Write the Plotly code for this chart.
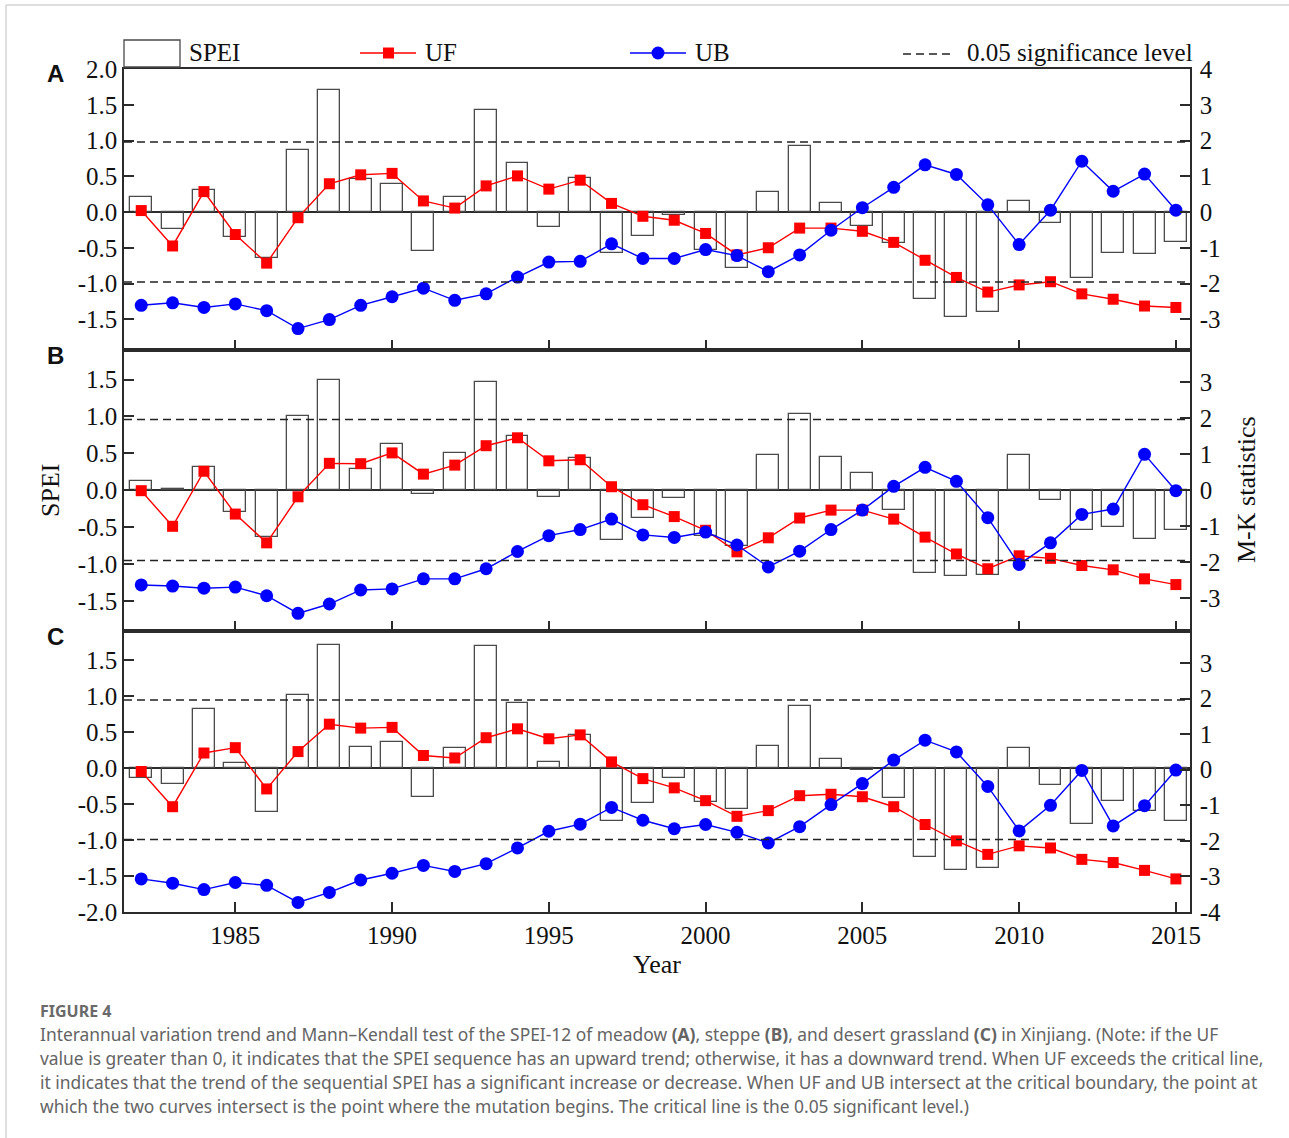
import plotly.graph_objects as go

W, H = 1289, 1138

years = list(range(1982, 2016))
year_ticks = [1985, 1990, 1995, 2000, 2005, 2010, 2015]
sig_level = 1.96

# (A) meadow
spei_a = [0.21, -0.24, 0.31, -0.35, -0.65, 0.87, 1.71, 0.46, 0.39, -0.55, 0.21, 1.43, 0.69, -0.21, 0.48, -0.58,
          -0.34, -0.04, -0.53, -0.78, 0.28, 0.93, 0.12, -0.19, -0.43, -1.21, -1.47, -1.40, 0.15, -0.16, -0.92,
          -0.58, -0.59, -0.42]
uf_a = [0.04, -0.95, 0.57, -0.63, -1.43, -0.16, 0.79, 1.04, 1.08, 0.31, 0.11, 0.73, 1.01, 0.64, 0.89, 0.24,
        -0.12, -0.23, -0.60, -1.20, -1.00, -0.45, -0.45, -0.54, -0.85, -1.35, -1.83, -2.24, -2.04, -1.95, -2.29,
        -2.44, -2.63, -2.67]
ub_a = [-2.61, -2.54, -2.67, -2.57, -2.76, -3.26, -3.01, -2.61, -2.37, -2.13, -2.47, -2.29, -1.82, -1.40, -1.38,
        -0.89, -1.30, -1.30, -1.05, -1.22, -1.67, -1.20, -0.51, 0.12, 0.69, 1.32, 1.05, 0.20, -0.91, 0.05, 1.42,
        0.58, 1.06, 0.05]

# (B) steppe
spei_b = [0.13, 0.01, 0.31, -0.29, -0.64, 1.00, 1.50, 0.28, 0.63, -0.05, 0.51, 1.47, 0.73, -0.09, 0.44, -0.67,
          -0.38, -0.10, -0.62, -0.76, 0.48, 1.03, 0.45, 0.23, -0.27, -1.13, -1.16, -1.15, 0.48, -0.14, -0.54,
          -0.50, -0.66, -0.54]
uf_b = [-0.02, -1.01, 0.52, -0.67, -1.47, -0.19, 0.74, 0.73, 1.03, 0.44, 0.69, 1.23, 1.45, 0.81, 0.84, 0.09,
        -0.41, -0.74, -1.12, -1.72, -1.33, -0.78, -0.56, -0.56, -0.81, -1.31, -1.78, -2.19, -1.83, -1.90, -2.10,
        -2.22, -2.47, -2.63]
ub_b = [-2.64, -2.67, -2.73, -2.70, -2.94, -3.43, -3.17, -2.78, -2.75, -2.47, -2.47, -2.19, -1.71, -1.27, -1.10,
        -0.81, -1.25, -1.32, -1.17, -1.53, -2.14, -1.70, -1.10, -0.56, 0.10, 0.63, 0.24, -0.77, -2.07, -1.47,
        -0.68, -0.53, 0.99, -0.02]

# (C) desert grassland
spei_c = [-0.14, -0.22, 0.83, 0.08, -0.61, 1.02, 1.72, 0.30, 0.37, -0.40, 0.28, 1.70, 0.91, 0.09, 0.46, -0.73,
          -0.49, -0.14, -0.47, -0.57, 0.31, 0.87, 0.13, -0.03, -0.41, -1.23, -1.42, -1.39, 0.28, -0.23, -0.78,
          -0.46, -0.60, -0.73]
uf_c = [-0.05, -1.04, 0.47, 0.62, -0.54, 0.51, 1.28, 1.17, 1.19, 0.40, 0.33, 0.90, 1.15, 0.87, 0.98, 0.22,
        -0.25, -0.51, -0.87, -1.31, -1.15, -0.73, -0.69, -0.76, -1.04, -1.54, -2.00, -2.38, -2.14, -2.20, -2.52,
        -2.61, -2.83, -3.07]
ub_c = [-3.07, -3.19, -3.37, -3.17, -3.25, -3.73, -3.45, -3.10, -2.91, -2.69, -2.86, -2.64, -2.20, -1.73, -1.53,
        -1.06, -1.42, -1.66, -1.54, -1.76, -2.06, -1.60, -0.98, -0.39, 0.27, 0.83, 0.50, -0.47, -1.72, -1.00,
        -0.02, -1.58, -1.01, -0.01]

# left (SPEI) and right (M-K) tick labels per panel
spei_ticks_a = [2.0, 1.5, 1.0, 0.5, 0.0, -0.5, -1.0, -1.5]
spei_ticks_b = [1.5, 1.0, 0.5, 0.0, -0.5, -1.0, -1.5]
spei_ticks_c = [1.5, 1.0, 0.5, 0.0, -0.5, -1.0, -1.5, -2.0]
mk_ticks_a = [4, 3, 2, 1, 0, -1, -2, -3]
mk_ticks_b = [3, 2, 1, 0, -1, -2, -3]
mk_ticks_c = [3, 2, 1, 0, -1, -2, -3, -4]

caption_lines = [
    "Interannual variation trend and Mann\u2013Kendall test of the SPEI-12 of meadow <b>(A)</b>, steppe <b>(B)</b>, "
    "and desert grassland <b>(C)</b> in Xinjiang. (Note: if the UF",
    "value is greater than 0, it indicates that the SPEI sequence has an upward trend; otherwise, it has a downward "
    "trend. When UF exceeds the critical line,",
    "it indicates that the trend of the sequential SPEI has a significant increase or decrease. When UF and UB "
    "intersect at the critical boundary, the point at",
    "which the two curves intersect is the point where the mutation begins. The critical line is the 0.05 "
    "significant level.)",
]

SERIF = "Liberation Serif"
SANS = "Noto Sans"
AX = "#2b2b2b"


def px(x):
    return x / W


def py(y):
    return 1 - y / H


def fmt1(v):
    # one-decimal labels with a plain hyphen for negatives
    return f"{v:.1f}"


panels = [
    dict(letter="A", spei=spei_a, uf=uf_a, ub=ub_a, top=69, bot=350,
         lrange=[-1.93, 2.0], rrange=[-3.86, 4.0], lt=spei_ticks_a, rt=mk_ticks_a),
    dict(letter="B", spei=spei_b, uf=uf_b, ub=ub_b, top=350, bot=631,
         lrange=[-1.91, 1.90], rrange=[-3.92, 3.89], lt=spei_ticks_b, rt=mk_ticks_b),
    dict(letter="C", spei=spei_c, uf=uf_c, ub=ub_c, top=631, bot=912,
         lrange=[-2.0, 1.91], rrange=[-4.0, 3.9], lt=spei_ticks_c, rt=mk_ticks_c),
]

x_left, x_right = 124, 1190
x_range = [1981.45, 2015.45]

fig = go.Figure()
layout = {}
shapes = []
annotations = []
tick_font = dict(family=SERIF, size=25, color="#111")

for i, p in enumerate(panels):
    xn = "x" if i == 0 else f"x{i + 1}"
    yl = "y" if i == 0 else f"y{2 * i + 1}"
    yr = f"y{2 * i + 2}"
    xkey = "xaxis" if i == 0 else f"xaxis{i + 1}"
    ylkey = "yaxis" if i == 0 else f"yaxis{2 * i + 1}"
    yrkey = f"yaxis{2 * i + 2}"

    fig.add_trace(go.Bar(x=years, y=p["spei"], width=0.7, xaxis=xn, yaxis=yl,
                         marker=dict(color="rgba(255,255,255,0)", line=dict(color="#4a4a4a", width=1.3)),
                         showlegend=False))
    fig.add_trace(go.Scatter(x=years, y=p["uf"], xaxis=xn, yaxis=yr, mode="lines+markers",
                             line=dict(color="#ff0000", width=1.4),
                             marker=dict(symbol="square", size=11, color="#ff0000"), showlegend=False))
    fig.add_trace(go.Scatter(x=years, y=p["ub"], xaxis=xn, yaxis=yr, mode="lines+markers",
                             line=dict(color="#0000ff", width=1.4),
                             marker=dict(symbol="circle", size=13, color="#0000ff"), showlegend=False))

    dom_y = [py(p["bot"]), py(p["top"])]
    layout[xkey] = dict(domain=[px(x_left), px(x_right)], range=x_range, anchor=yl, automargin=False,
                        tickvals=year_ticks, ticktext=[str(t) for t in year_ticks],
                        showticklabels=(i == 2), ticks="inside", ticklen=10, tickwidth=1.5, tickcolor=AX,
                        showline=True, mirror=True, linecolor=AX, linewidth=1.5, showgrid=False, zeroline=False,
                        tickfont=tick_font)
    layout[ylkey] = dict(domain=dom_y, range=p["lrange"], anchor=xn, automargin=False,
                         tickvals=p["lt"], ticktext=[fmt1(v) for v in p["lt"]],
                         ticks="inside", ticklen=10, tickwidth=1.5, tickcolor=AX,
                         showline=True, linecolor=AX, linewidth=1.5, showgrid=False,
                         zeroline=True, zerolinecolor=AX, zerolinewidth=1.5, tickfont=tick_font)
    layout[yrkey] = dict(range=p["rrange"], overlaying=yl, side="right", anchor=xn, automargin=False,
                         tickvals=p["rt"], ticktext=[str(v) for v in p["rt"]], ticklabelstandoff=3,
                         ticks="inside", ticklen=10, tickwidth=1.5, tickcolor=AX,
                         showline=True, linecolor=AX, linewidth=1.5, showgrid=False, zeroline=False,
                         tickfont=tick_font)

    # 0.05 significance level (|Z| = 1.96)
    for s in (sig_level, -sig_level):
        shapes.append(dict(type="line", xref=f"{xn} domain", x0=0, x1=1, yref=yr, y0=s, y1=s,
                           line=dict(color="#222", width=1.6, dash="8px,5px")))

    annotations.append(dict(text=f"<b>{p['letter']}</b>", x=px(55), y=py(p["top"] + 5), xref="paper",
                            yref="paper", xanchor="center", yanchor="middle", showarrow=False,
                            font=dict(family="Liberation Sans", size=24, color="#111")))

# axis titles
annotations += [
    dict(text="SPEI", x=px(50), y=py(490), xref="paper", yref="paper", textangle=-90, showarrow=False,
         xanchor="center", yanchor="middle", font=dict(family=SERIF, size=26, color="#111")),
    dict(text="M-K statistics", x=px(1246), y=py(490), xref="paper", yref="paper", textangle=-90,
         showarrow=False, xanchor="center", yanchor="middle", font=dict(family=SERIF, size=26, color="#111")),
    dict(text="Year", x=px(657), y=py(964), xref="paper", yref="paper", showarrow=False,
         xanchor="center", yanchor="middle", font=dict(family=SERIF, size=26, color="#111")),
]

# legend row
leg_y = 53
shapes.append(dict(type="rect", xref="paper", yref="paper", x0=px(124), x1=px(180), y0=py(40), y1=py(67),
                   line=dict(color="#4a4a4a", width=1.3), fillcolor="rgba(0,0,0,0)"))
shapes.append(dict(type="line", xref="paper", yref="paper", x0=px(360), x1=px(416), y0=py(leg_y), y1=py(leg_y),
                   line=dict(color="#ff0000", width=1.4)))
shapes.append(dict(type="rect", xref="paper", yref="paper", x0=px(383), x1=px(394), y0=py(leg_y - 5.5),
                   y1=py(leg_y + 5.5), line=dict(width=0), fillcolor="#ff0000"))
shapes.append(dict(type="line", xref="paper", yref="paper", x0=px(630), x1=px(686), y0=py(leg_y), y1=py(leg_y),
                   line=dict(color="#0000ff", width=1.4)))
shapes.append(dict(type="circle", xref="paper", yref="paper", x0=px(651.5), x1=px(664.5), y0=py(leg_y - 6.5),
                   y1=py(leg_y + 6.5), line=dict(width=0), fillcolor="#0000ff"))
shapes.append(dict(type="line", xref="paper", yref="paper", x0=px(903), x1=px(955), y0=py(leg_y + 1),
                   y1=py(leg_y + 1), line=dict(color="#222", width=1.6, dash="8px,5px")))
for txt, x in (("SPEI", 187), ("UF", 423), ("UB", 693), ("0.05 significance level", 965)):
    annotations.append(dict(text=txt, x=px(x), y=py(leg_y), xref="paper", yref="paper", showarrow=False,
                            xanchor="left", yanchor="middle", font=dict(family=SERIF, size=25, color="#111")))

# page frame
shapes.append(dict(type="line", xref="paper", yref="paper", x0=px(6), x1=1, y0=py(5), y1=py(5),
                   line=dict(color="#d3d3d3", width=1.5)))
shapes.append(dict(type="line", xref="paper", yref="paper", x0=px(6), x1=px(6), y0=py(5), y1=0,
                   line=dict(color="#d3d3d3", width=1.5)))

# caption
annotations.append(dict(text="<b>FIGURE 4</b>", x=px(38), y=py(1011), xref="paper", yref="paper",
                        showarrow=False, xanchor="left", yanchor="middle",
                        font=dict(family=SANS, size=16, color="#6a6a6a")))
for k, line in enumerate(caption_lines):
    annotations.append(dict(text=line, x=px(38), y=py(1034 + 24 * k), xref="paper", yref="paper",
                            showarrow=False, xanchor="left", yanchor="middle",
                            font=dict(family=SANS, size=17.4, color="#646464")))

fig.update_layout(width=W, height=H, margin=dict(l=0, r=0, t=0, b=0, pad=0, autoexpand=False),
                  plot_bgcolor="white", paper_bgcolor="white", showlegend=False, bargap=0,
                  shapes=shapes, annotations=annotations, **layout)

fig.write_html("out.html")
